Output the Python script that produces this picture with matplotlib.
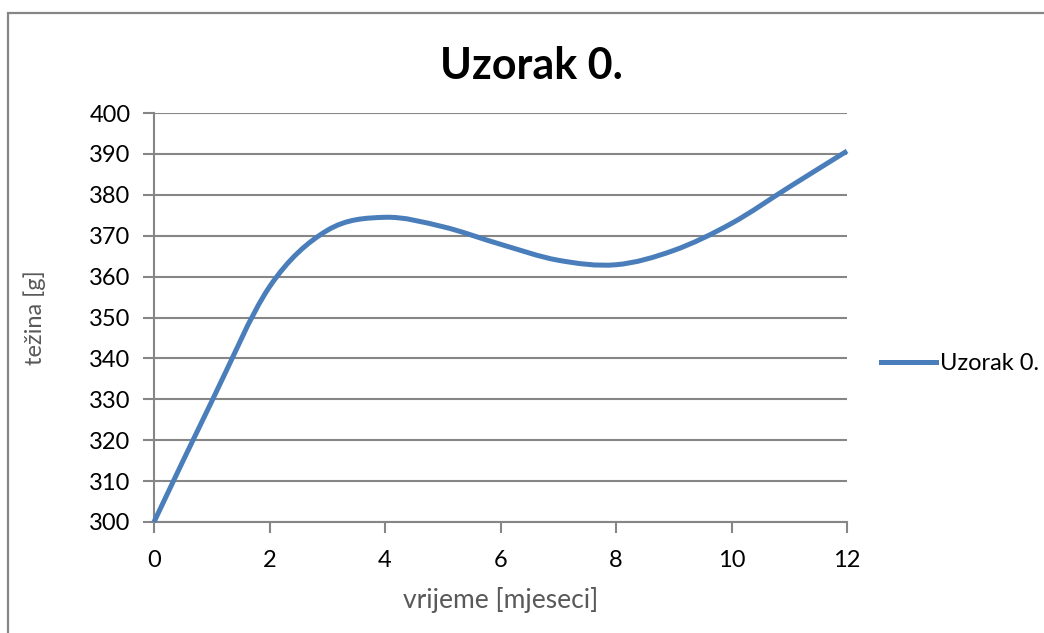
import matplotlib
matplotlib.use("Agg")
import matplotlib.pyplot as plt
from matplotlib.path import Path
from matplotlib.patches import PathPatch, Rectangle
from matplotlib.lines import Line2D

# Monthly measurements: weight of the sample over time
months = [0, 1, 2, 3, 4, 5, 6, 7, 8, 9, 10, 11, 12]
weight = [300, 329.5, 357.5, 371.3, 374.5, 372.2, 367.9, 364.0, 362.9,
          366.4, 373.0, 381.9, 390.7]
series_name = "Uzorak 0."
title = "Uzorak 0."
x_label = "vrijeme [mjeseci]"
y_label = "težina [g]"
x_ticks = [0, 2, 4, 6, 8, 10, 12]
y_ticks = [300, 310, 320, 330, 340, 350, 360, 370, 380, 390, 400]

LINE_COLOR = "#4A7EBB"
GRID_COLOR = "#868686"
LABEL_COLOR = "#595959"
FONT = "Lato"

plt.rcParams["font.family"] = [FONT, "DejaVu Sans"]

fig = plt.figure(figsize=(10.44, 6.33), dpi=100)
ax = fig.add_axes([154 / 1044, 1 - 522 / 633, (847 - 154) / 1044, (522 - 113) / 633])

# Chart-area frame
fig.patches.append(Rectangle((8 / 1044, -0.05), 1.2, 1 - 13 / 633 + 0.05,
                             transform=fig.transFigure, fill=False,
                             edgecolor=GRID_COLOR, linewidth=1.6))


def smooth_path(xs, ys):
    """Cubic Bezier smoothing through the points (Catmull-Rom style)."""
    pts = list(zip(xs, ys))
    n = len(pts)
    verts = [pts[0]]
    codes = [Path.MOVETO]
    for i in range(n - 1):
        p1 = pts[i]
        p2 = pts[i + 1]
        # reflect neighbours at the ends so the curve leaves the end points straight
        p0 = pts[i - 1] if i > 0 else (2 * p1[0] - p2[0], 2 * p1[1] - p2[1])
        p3 = pts[i + 2] if i + 2 < n else (2 * p2[0] - p1[0], 2 * p2[1] - p1[1])
        c1 = (p1[0] + (p2[0] - p0[0]) / 6, p1[1] + (p2[1] - p0[1]) / 6)
        c2 = (p2[0] - (p3[0] - p1[0]) / 6, p2[1] - (p3[1] - p1[1]) / 6)
        verts += [c1, c2, p2]
        codes += [Path.CURVE4] * 3
    return Path(verts, codes)


ax.add_patch(PathPatch(smooth_path(months, weight), facecolor="none",
                       edgecolor=LINE_COLOR, linewidth=3.6,
                       capstyle="butt", zorder=3, clip_on=False))

ax.set_xlim(x_ticks[0], x_ticks[-1])
ax.set_ylim(y_ticks[0], y_ticks[-1])
ax.set_xticks(x_ticks)
ax.set_yticks(y_ticks)
ax.set_xticklabels([str(v) for v in x_ticks])
ax.set_yticklabels([str(v) for v in y_ticks])

ax.grid(axis="y", color=GRID_COLOR, linewidth=1.5)
ax.set_axisbelow(True)
for side in ("top", "right"):
    ax.spines[side].set_visible(False)
for side in ("left", "bottom"):
    ax.spines[side].set_color(GRID_COLOR)
    ax.spines[side].set_linewidth(1.5)
ax.tick_params(axis="both", direction="out", length=8, width=1.5,
               color=GRID_COLOR, labelsize=17, labelcolor="black")
ax.tick_params(axis="y", pad=9)
ax.tick_params(axis="x", pad=12)

ax.set_xlabel(x_label, fontsize=19, color=LABEL_COLOR, labelpad=12)
ax.set_ylabel(y_label, fontsize=17, color=LABEL_COLOR, labelpad=31)

fig.text(531 / 1044, 1 - 66 / 633, title, ha="center", va="center",
         fontsize=31, fontweight="bold", color="black")

handle = Line2D([], [], color=LINE_COLOR, linewidth=3.6)
ax.legend([handle], [series_name], loc="center left",
          bbox_to_anchor=(881 / 1044, 1 - 364 / 633),
          bbox_transform=fig.transFigure, frameon=False, fontsize=17,
          handlelength=2.35, handletextpad=0.15, borderpad=0, borderaxespad=0)

fig.savefig("out.png", dpi=100)
